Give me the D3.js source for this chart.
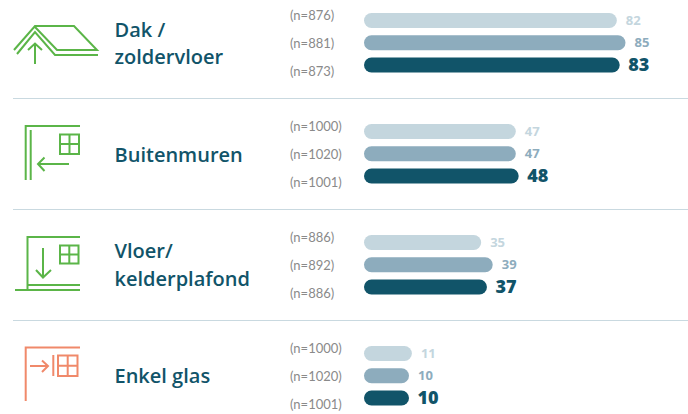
<!DOCTYPE html>
<html>
<head>
<meta charset="utf-8">
<script src="https://cdn.jsdelivr.net/npm/d3@7"></script>
<style>
  html, body { margin: 0; padding: 0; background: #fff; }
</style>
</head>
<body>
<div id="chart"></div>
<script>
const categories = ["Dak", "Buitenmuren", "Vloer", "Enkel glas"]
const categoryLines = [["Dak /", "zoldervloer"], ["Buitenmuren"], ["Vloer/", "kelderplafond"], ["Enkel glas"]]
const series = ["a", "b", "c"]
const values = [[82, 85, 83], [47, 47, 48], [35, 39, 37], [11, 10, 10]]
const counts = [[876, 881, 873], [1000, 1020, 1001], [886, 892, 886], [1000, 1020, 1001]]
const colors = ["#c4d6de", "#8dacbd", "#115469"]
const green = "#5bb548"
const orange = "#f0896a"

const width = 688
const height = 414

const svg = d3.select("#chart").append("svg")
  .attr("width", width)
  .attr("height", height)
  .style("display", "block")

// group offset, then row position inside a group
const groupY = d3.scalePoint().domain(categories).range([0, 333])
const barY = d3.scalePoint().domain(series).range([20.5, 65])
const countY = d3.scalePoint().domain(series).range([15, 71])
const x = d3.scaleLinear().domain([10, 85]).range([409, 625.5])
const barLeft = 364
const barHeight = 15

// icons are hand drawn per category
const icons = [
  { color: green, paths: [
    "M14,50L35,26L74,26L97,50L57,50L35,27",
    "M17,54L35,32L55,55L98,55",
    "M35,64V44M28,50L35,43.5L42,50"] },
  { color: green, paths: [
    "M25.7,180V126H80",
    "M30.7,130V180",
    "M60,134.5H79V154H60ZM69.5,134.5V154M60,144H79",
    "M69,164H38M44.5,157.5L38,164L44.5,171"] },
  { color: green, paths: [
    "M27.5,289V237H80",
    "M15,290H80",
    "M28,285H80",
    "M60,245.5H78.5V263.5H60ZM69.3,245.5V263.5M60,254.5H78.5",
    "M43,248V277M36,270L43,277.5L51,270"] },
  { color: orange, paths: [
    "M25.7,401V347.5H80",
    "M53.3,355V376",
    "M58,355.5H77.5V376H58ZM67.7,355.5V376M58,365.7H77.5",
    "M30,366H48M42,360.5L48,366L42,372"] }
]

// separators between groups
svg.selectAll("line.sep")
  .data(categories.slice(0, 3))
  .enter().append("line")
  .attr("class", "sep")
  .attr("x1", 13)
  .attr("x2", width)
  .attr("y1", d => groupY(d) + 98.5)
  .attr("y2", d => groupY(d) + 98.5)
  .attr("stroke", "#c9d9e0")
  .attr("stroke-width", 1)

icons.forEach(icon => {
  svg.append("g")
    .selectAll("path")
    .data(icon.paths)
    .enter().append("path")
    .attr("d", d => d)
    .attr("fill", "none")
    .attr("stroke", icon.color)
    .attr("stroke-width", 2)
})

const labelBase = [[37, 64], [162], [258, 286], [383]]

categories.forEach((cat, i) => {
  const g = svg.append("g").attr("transform", `translate(0, ${groupY(cat)})`)

  svg.append("g")
    .selectAll("text")
    .data(categoryLines[i])
    .enter().append("text")
    .attr("x", 114.5)
    .attr("y", (d, j) => labelBase[i][j])
    .attr("font-family", "'Open Sans', sans-serif")
    .attr("font-weight", 600)
    .attr("font-size", 20)
    .attr("fill", "#115469")
    .text(d => d)

  g.selectAll("text.count")
    .data(series)
    .enter().append("text")
    .attr("class", "count")
    .attr("x", 290)
    .attr("y", d => countY(d) + 5)
    .attr("font-family", "Lato, sans-serif")
    .attr("font-size", 13)
    .attr("fill", "#8a8a8a")
    .text((d, j) => `(n=${counts[i][j]})`)

  g.selectAll("rect")
    .data(series)
    .enter().append("rect")
    .attr("x", barLeft)
    .attr("y", d => barY(d) - barHeight / 2)
    .attr("width", (d, j) => x(values[i][j]) - barLeft)
    .attr("height", barHeight)
    .attr("rx", 7.5)
    .attr("fill", (d, j) => colors[j])

  g.selectAll("text.value")
    .data(series)
    .enter().append("text")
    .attr("class", "value")
    .attr("x", (d, j) => x(values[i][j]) + (j == 2 ? 8.5 : 9))
    .attr("y", d => barY(d))
    .attr("dy", "0.36em")
    .attr("font-family", "'Open Sans', sans-serif")
    .attr("font-weight", (d, j) => j == 2 ? 800 : 700)
    .attr("font-size", (d, j) => j == 2 ? 18 : 13)
    .attr("fill", (d, j) => colors[j])
    .text((d, j) => values[i][j])
})
</script>
</body>
</html>
